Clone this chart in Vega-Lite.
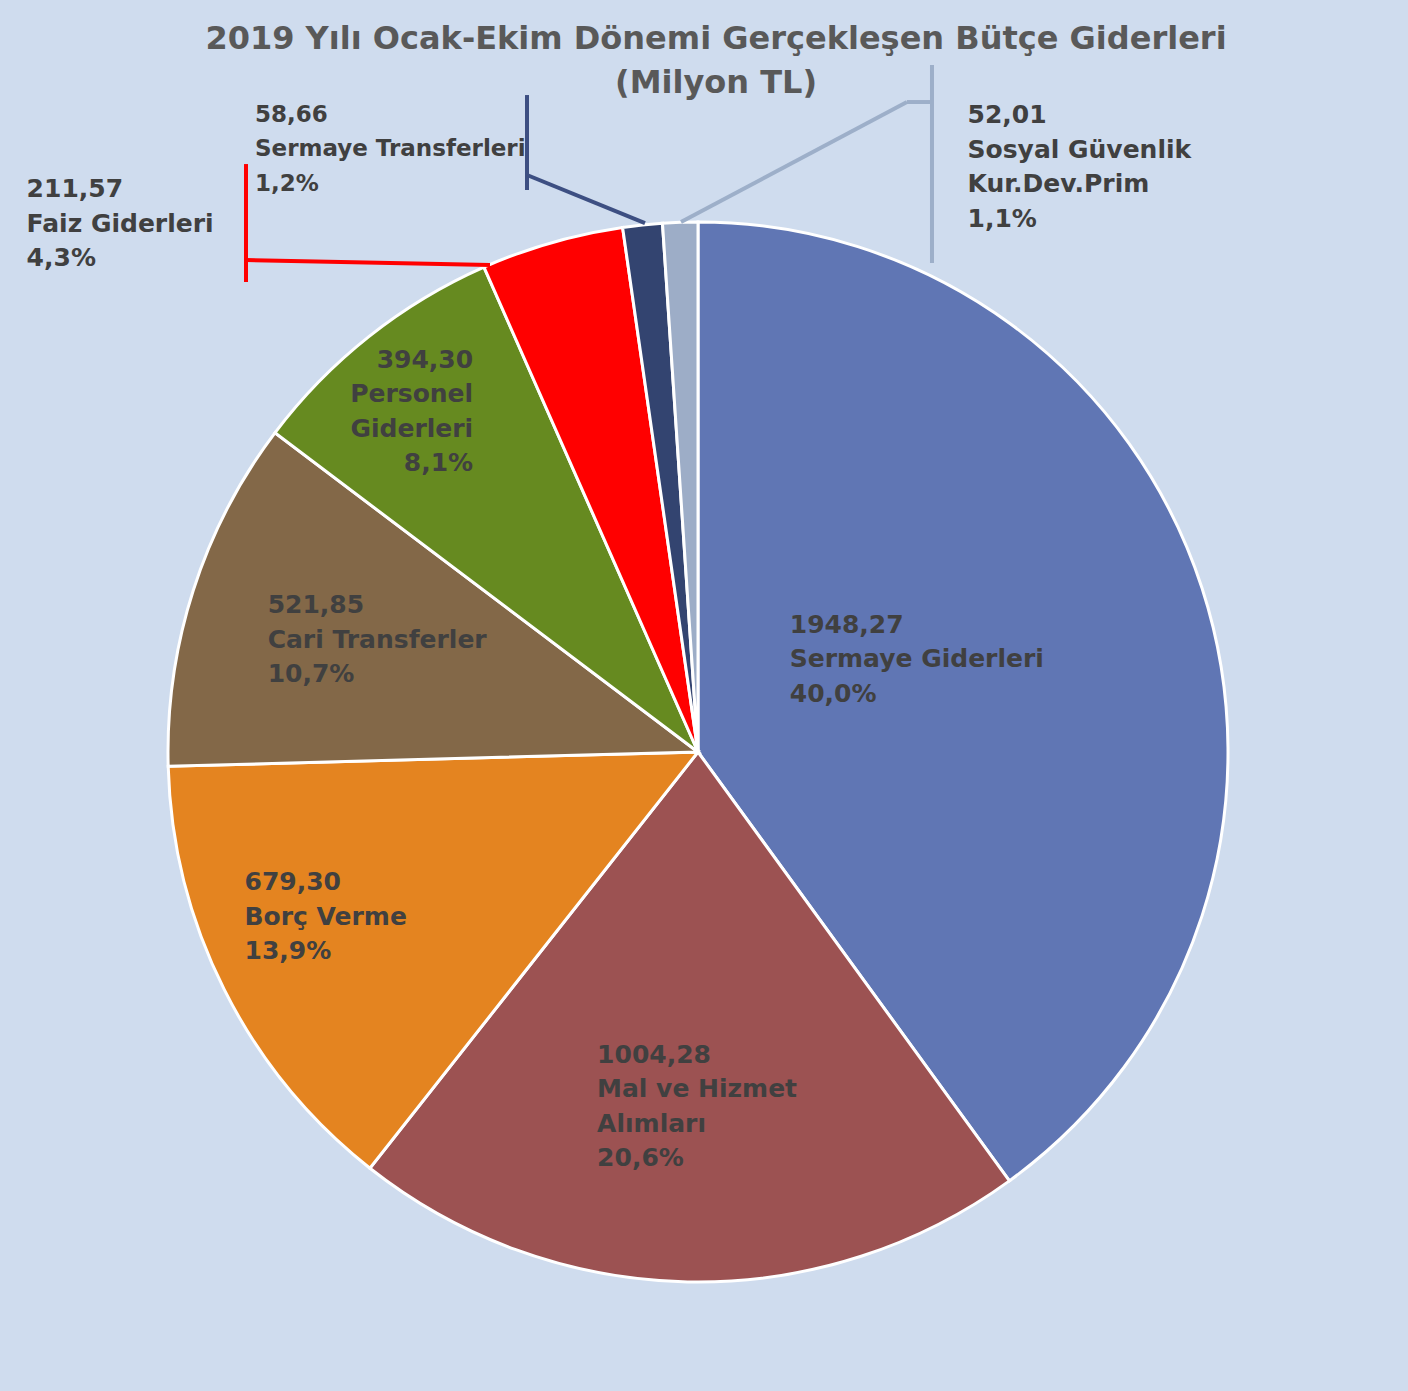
{
  "$schema": "https://vega.github.io/schema/vega-lite/v6.json",
  "autosize": "none",
  "width": 1396,
  "height": 1278,
  "padding": {"left": 0, "top": 113, "right": 12, "bottom": 0},
  "background": "#CFDCEE",
  "config": {"view": {"stroke": null}},
  "title": {
    "text": ["2019 Yılı Ocak-Ekim Dönemi Gerçekleşen Bütçe Giderleri", "(Milyon TL)"],
    "font": "DejaVu Sans",
    "fontSize": 32,
    "fontWeight": "bold",
    "color": "#595959",
    "anchor": "middle",
    "lineHeight": 44,
    "offset": 10,
    "dx": 18,
    "dy": 47
  },
  "datasets": {
    "giderler": [
      {"sira": 1, "name": "Sermaye Giderleri", "value": 1948.27, "label": "1948,27\nSermaye Giderleri\n40,0%"},
      {"sira": 2, "name": "Mal ve Hizmet Alımları", "value": 1004.28, "label": "1004,28\nMal ve Hizmet\nAlımları\n20,6%"},
      {"sira": 3, "name": "Borç Verme", "value": 679.30, "label": "679,30\nBorç Verme\n13,9%"},
      {"sira": 4, "name": "Cari Transferler", "value": 521.85, "label": "521,85\nCari Transferler\n10,7%"},
      {"sira": 5, "name": "Personel Giderleri", "value": 394.30, "label": "394,30\nPersonel\nGiderleri\n8,1%"},
      {"sira": 6, "name": "Faiz Giderleri", "value": 211.57, "label": "211,57\nFaiz Giderleri\n4,3%"},
      {"sira": 7, "name": "Sermaye Transferleri", "value": 58.66, "label": "58,66\nSermaye Transferleri\n1,2%"},
      {"sira": 8, "name": "Sosyal Güvenlik Kur.Dev.Prim", "value": 52.01, "label": "52,01\nSosyal Güvenlik\nKur.Dev.Prim\n1,1%"}
    ],
    "cizgiler": [
      {"seri": "Faiz Giderleri", "x": -0.8528, "y": 1.1094, "x2": -0.8528, "y2": 0.8868},
      {"seri": "Faiz Giderleri", "x": -0.8528, "y": 0.9283, "x2": -0.3925, "y2": 0.9189},
      {"seri": "Sermaye Transferleri", "x": -0.3226, "y": 1.2396, "x2": -0.3226, "y2": 1.0604},
      {"seri": "Sermaye Transferleri", "x": -0.3226, "y": 1.0887, "x2": -0.1, "y2": 0.9981},
      {"seri": "Sosyal Güvenlik Kur.Dev.Prim", "x": 0.4415, "y": 1.2962, "x2": 0.4415, "y2": 0.9226},
      {"seri": "Sosyal Güvenlik Kur.Dev.Prim", "x": 0.4415, "y": 1.2264, "x2": 0.3943, "y2": 1.2264},
      {"seri": "Sosyal Güvenlik Kur.Dev.Prim", "x": 0.3943, "y": 1.2264, "x2": -0.0321, "y2": 1.0}
    ]
  },
  "data": {"name": "giderler"},
  "layer": [
    {
      "mark": {"type": "arc", "outerRadius": 530, "stroke": "#FFFFFF", "strokeWidth": 3},
      "encoding": {
        "theta": {"field": "value", "type": "quantitative", "stack": true},
        "order": {"field": "sira", "type": "quantitative"},
        "color": {
          "field": "name", "type": "nominal", "legend": null,
          "scale": {
            "domain": ["Sermaye Giderleri", "Mal ve Hizmet Alımları", "Borç Verme", "Cari Transferler", "Personel Giderleri", "Faiz Giderleri", "Sermaye Transferleri", "Sosyal Güvenlik Kur.Dev.Prim"],
            "range": ["#6076B4", "#9C5252", "#E48420", "#836848", "#668A20", "#FF0000", "#334470", "#9DADC7"]
          }
        }
      }
    },
    {
      "mark": {"type": "text", "radius": 250, "dx": -146, "dy": -62, "align": "left", "baseline": "top", "font": "DejaVu Sans", "fontSize": 25, "fontWeight": "bold", "fill": "#404040", "lineHeight": 34.5, "lineBreak": "\n"},
      "encoding": {
        "theta": {"field": "value", "type": "quantitative", "stack": true},
        "order": {"field": "sira", "type": "quantitative"},
        "text": {"condition": {"test": "datum.name === 'Sermaye Giderleri'", "field": "label", "type": "nominal"}, "value": ""}
      }
    },
    {
      "mark": {"type": "text", "radius": 350, "dx": -94, "dy": -59, "align": "left", "baseline": "top", "font": "DejaVu Sans", "fontSize": 25, "fontWeight": "bold", "fill": "#404040", "lineHeight": 34.5, "lineBreak": "\n"},
      "encoding": {
        "theta": {"field": "value", "type": "quantitative", "stack": true},
        "order": {"field": "sira", "type": "quantitative"},
        "text": {"condition": {"test": "datum.name === 'Mal ve Hizmet Alımları'", "field": "label", "type": "nominal"}, "value": ""}
      }
    },
    {
      "mark": {"type": "text", "radius": 400, "dx": -96, "dy": -61, "align": "left", "baseline": "top", "font": "DejaVu Sans", "fontSize": 25, "fontWeight": "bold", "fill": "#404040", "lineHeight": 34.5, "lineBreak": "\n"},
      "encoding": {
        "theta": {"field": "value", "type": "quantitative", "stack": true},
        "order": {"field": "sira", "type": "quantitative"},
        "text": {"condition": {"test": "datum.name === 'Borç Verme'", "field": "label", "type": "nominal"}, "value": ""}
      }
    },
    {
      "mark": {"type": "text", "radius": 350, "dx": -97, "dy": -52, "align": "left", "baseline": "top", "font": "DejaVu Sans", "fontSize": 25, "fontWeight": "bold", "fill": "#404040", "lineHeight": 34.5, "lineBreak": "\n"},
      "encoding": {
        "theta": {"field": "value", "type": "quantitative", "stack": true},
        "order": {"field": "sira", "type": "quantitative"},
        "text": {"condition": {"test": "datum.name === 'Cari Transferler'", "field": "label", "type": "nominal"}, "value": ""}
      }
    },
    {
      "mark": {"type": "text", "radius": 420, "dx": 36, "dy": -75, "align": "right", "baseline": "top", "font": "DejaVu Sans", "fontSize": 25, "fontWeight": "bold", "fill": "#404040", "lineHeight": 34.5, "lineBreak": "\n"},
      "encoding": {
        "theta": {"field": "value", "type": "quantitative", "stack": true},
        "order": {"field": "sira", "type": "quantitative"},
        "text": {"condition": {"test": "datum.name === 'Personel Giderleri'", "field": "label", "type": "nominal"}, "value": ""}
      }
    },
    {
      "mark": {"type": "text", "radius": 600, "dx": -506, "dy": 2, "align": "left", "baseline": "top", "font": "DejaVu Sans", "fontSize": 25, "fontWeight": "bold", "fill": "#404040", "lineHeight": 34.5, "lineBreak": "\n"},
      "encoding": {
        "theta": {"field": "value", "type": "quantitative", "stack": true},
        "order": {"field": "sira", "type": "quantitative"},
        "text": {"condition": {"test": "datum.name === 'Faiz Giderleri'", "field": "label", "type": "nominal"}, "value": ""}
      }
    },
    {
      "mark": {"type": "text", "radius": 640, "dx": -376, "dy": -12, "align": "left", "baseline": "top", "font": "DejaVu Sans", "fontSize": 23, "fontWeight": "bold", "fill": "#404040", "lineHeight": 34.5, "lineBreak": "\n"},
      "encoding": {
        "theta": {"field": "value", "type": "quantitative", "stack": true},
        "order": {"field": "sira", "type": "quantitative"},
        "text": {"condition": {"test": "datum.name === 'Sermaye Transferleri'", "field": "label", "type": "nominal"}, "value": ""}
      }
    },
    {
      "mark": {"type": "text", "radius": 640, "dx": 291, "dy": -9, "align": "left", "baseline": "top", "font": "DejaVu Sans", "fontSize": 25, "fontWeight": "bold", "fill": "#404040", "lineHeight": 34.5, "lineBreak": "\n"},
      "encoding": {
        "theta": {"field": "value", "type": "quantitative", "stack": true},
        "order": {"field": "sira", "type": "quantitative"},
        "text": {"condition": {"test": "datum.name === 'Sosyal Güvenlik Kur.Dev.Prim'", "field": "label", "type": "nominal"}, "value": ""}
      }
    },
    {
      "data": {"name": "cizgiler"},
      "mark": {"type": "rule", "strokeWidth": 4, "strokeCap": "butt"},
      "encoding": {
        "x": {"field": "x", "type": "quantitative", "axis": null, "scale": {"domain": [-1.317, 1.317], "nice": false, "zero": false}},
        "y": {"field": "y", "type": "quantitative", "axis": null, "scale": {"domain": [-1.2057, 1.2057], "nice": false, "zero": false}},
        "x2": {"field": "x2"},
        "y2": {"field": "y2"},
        "stroke": {
          "field": "seri", "type": "nominal", "legend": null,
          "scale": {
            "domain": ["Faiz Giderleri", "Sermaye Transferleri", "Sosyal Güvenlik Kur.Dev.Prim"],
            "range": ["#FF0000", "#3D4F82", "#9DAFC9"]
          }
        }
      }
    }
  ]
}
